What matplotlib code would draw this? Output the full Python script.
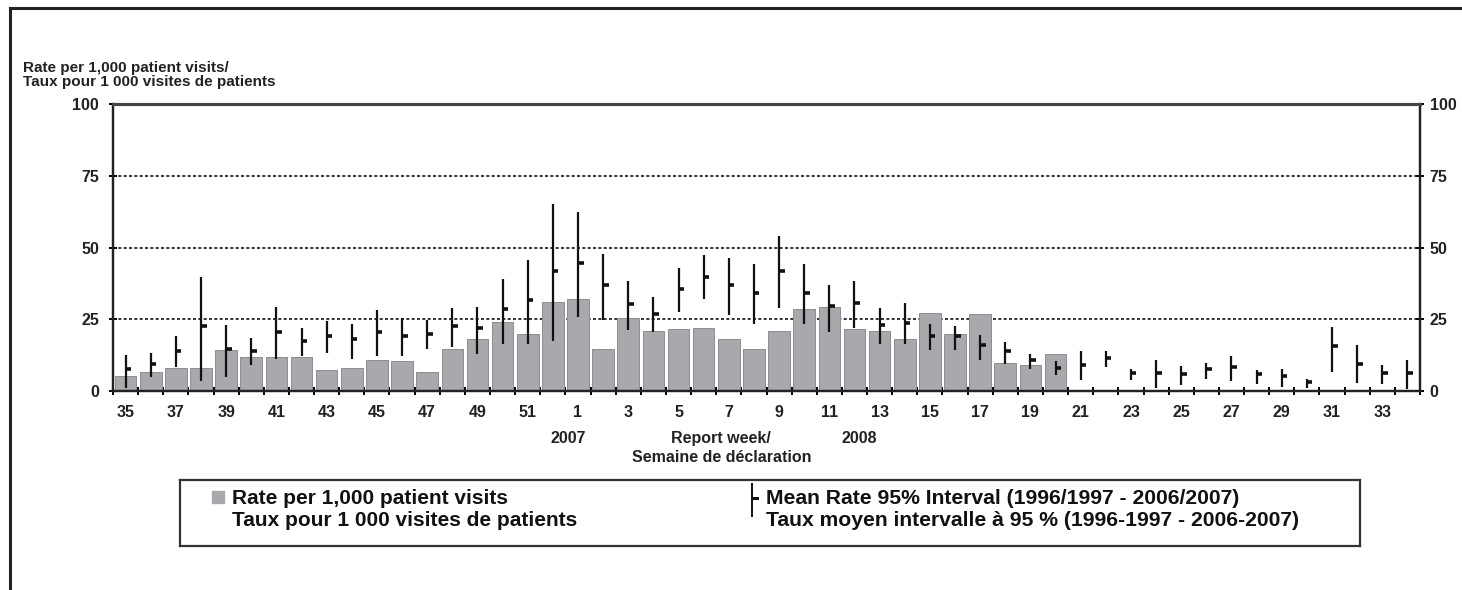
import numpy as np
import matplotlib
matplotlib.use("Agg")
from matplotlib import pyplot as plt
from matplotlib.lines import Line2D
from matplotlib.transforms import blended_transform_factory

plt.rcParams['font.family'] = ['Liberation Sans', 'DejaVu Sans']

# report weeks: 35..52 of 2007, then 1..34 of 2008
weeks = list(range(35, 53)) + list(range(1, 35))

# rate per 1,000 patient visits (only to week 20 of 2008)
rate = [5.2, 6.6, 8.0, 8.0, 14.4, 11.9, 11.9, 11.9, 7.2, 8.0,
        10.9, 10.5, 6.6, 14.8, 18.2, 24.0, 19.7, 31.1, 32.0, 14.8,
        25.4, 20.8, 21.5, 22.1, 18.2, 14.8, 20.8, 28.6, 29.2, 21.5,
        20.8, 18.2, 27.2, 20.0, 26.7, 9.9, 9.1, 12.8]

# mean rate and 95% interval, 1996/1997 - 2006/2007
mean_rate = [7.6, 9.5, 13.9, 22.6, 14.6, 13.9, 20.4, 17.3, 19.2, 18.0,
             20.6, 19.2, 20.0, 22.6, 21.8, 28.4, 31.7, 41.9, 44.5, 36.8,
             30.2, 27.0, 35.4, 39.8, 36.8, 34.0, 41.9, 34.0, 29.6, 30.8,
             22.9, 23.7, 19.2, 19.2, 15.9, 13.9, 10.7, 8.0, 9.0, 11.6,
             6.1, 6.3, 5.8, 7.5, 8.4, 5.8, 5.1, 3.1, 15.6, 9.5,
             6.1, 6.3]
low = [1.2, 4.9, 8.4, 3.4, 4.9, 9.0, 11.2, 12.1, 13.3, 11.3,
       12.1, 12.1, 14.8, 15.4, 12.8, 16.5, 16.5, 17.3, 25.8, 24.7,
       21.2, 20.6, 27.6, 32.2, 26.4, 23.3, 29.0, 23.2, 20.6, 21.8,
       16.5, 16.5, 14.2, 14.2, 10.9, 9.5, 7.8, 5.5, 3.7, 8.4,
       3.7, 1.2, 2.0, 4.3, 3.5, 2.6, 1.4, 1.2, 6.6, 2.8,
       2.6, 0.8]
high = [12.5, 13.3, 19.1, 39.6, 22.9, 18.5, 29.3, 22.1, 24.4, 23.5,
        28.2, 25.5, 24.7, 28.8, 29.3, 39.1, 45.6, 65.1, 62.5, 47.6,
        38.4, 32.6, 43.0, 47.4, 46.2, 44.2, 54.0, 44.2, 37.1, 38.4,
        28.8, 30.5, 23.3, 22.7, 19.4, 17.1, 13.0, 10.4, 13.9, 13.9,
        7.8, 10.7, 8.6, 9.8, 12.1, 7.2, 7.5, 4.3, 22.4, 15.9,
        9.0, 10.7]

yticks = [0, 25, 50, 75, 100]

W, H = 1462, 590
TXT = '#222222'
fig = plt.figure(figsize=(W / 100, H / 100), dpi=100)
ax = fig.add_axes([113 / W, 1 - 391 / H, (1420 - 113) / W, (391 - 104) / H])

x = np.arange(len(weeks))
ax.bar(x[:len(rate)], rate, width=0.86, color='#a8a9ac', edgecolor='#8c8d90',
       linewidth=0.7, zorder=2)

ax.vlines(x, low, high, color='#111111', linewidth=1.6, zorder=3)
ax.hlines(mean_rate, x, x + 0.22, color='#111111', linewidth=2.6, zorder=3)

for v in yticks[1:-1]:
    ax.axhline(v, color='#111111', linewidth=1.2, linestyle=(0, (1.8, 1.4)), zorder=1)

ax.set_xlim(-0.5, len(weeks) - 0.5)
ax.set_ylim(0, 100)
ax.set_xticks(np.arange(-0.5, len(weeks), 1))
ax.set_xticklabels([])
ax.set_xticks(x[::2], minor=True)
ax.set_xticklabels([str(w) for w in weeks[::2]], minor=True)
ax.tick_params(axis='x', which='major', direction='inout', length=6, width=1.4)
ax.tick_params(axis='x', which='minor', length=0, pad=10, labelsize=11.5)
ax.set_yticks(yticks)
ax.tick_params(axis='y', direction='inout', length=6, width=1.4, pad=7, labelsize=11.5)
for lab in ax.get_xticklabels(minor=True) + ax.get_yticklabels():
    lab.set_fontweight('bold')
    lab.set_color(TXT)

ax2 = ax.twinx()
ax2.set_ylim(0, 100)
ax2.set_yticks(yticks)
ax2.tick_params(axis='y', direction='inout', length=6, width=1.4, pad=4, labelsize=11.5)
for lab in ax2.get_yticklabels():
    lab.set_fontweight('bold')
    lab.set_color(TXT)

for a in (ax, ax2):
    for s in ('left', 'right', 'bottom'):
        a.spines[s].set_linewidth(1.6)
        a.spines[s].set_color('#222222')
    a.spines['top'].set_linewidth(2.2)
    a.spines['top'].set_color('#444444')

tr = blended_transform_factory(ax.transData, ax.transAxes)
ax.text(17.6, -0.164, '2007', transform=tr, ha='center', va='center',
        fontsize=11.5, fontweight='bold', color=TXT)
ax.text(29.2, -0.164, '2008', transform=tr, ha='center', va='center',
        fontsize=11.5, fontweight='bold', color=TXT)
ax.text(23.7, -0.164, 'Report week/', transform=tr, ha='center', va='center',
        fontsize=11.5, fontweight='bold', color=TXT)
ax.text(23.7, -0.233, 'Semaine de déclaration', transform=tr, ha='center', va='center',
        fontsize=11.5, fontweight='bold', color=TXT)

fig.text(23 / W, 1 - 75 / H, 'Rate per 1,000 patient visits/\nTaux pour 1 000 visites de patients',
         ha='left', va='center', fontsize=11, fontweight='bold', color=TXT,
         linespacing=1.05)

# legend box, drawn in pixel units
lx0, ly0, lx1, ly1 = 180, 480, 1360, 546
lg = fig.add_axes([lx0 / W, 1 - ly1 / H, (lx1 - lx0) / W, (ly1 - ly0) / H])
lg.set_xlim(lx0, lx1)
lg.set_ylim(ly1, ly0)
lg.set_xticks([])
lg.set_yticks([])
for s in lg.spines.values():
    s.set_linewidth(1.6)
    s.set_color('#333333')
lg.add_patch(plt.Rectangle((212, 491), 12, 12, color='#a8a9ac'))
lg.text(232, 498, 'Rate per 1,000 patient visits', va='center', ha='left',
        fontsize=15, fontweight='bold', color='#111111')
lg.text(232, 521, 'Taux pour 1 000 visites de patients', va='center', ha='left',
        fontsize=15, fontweight='bold', color='#111111')
lg.plot([752, 752], [484, 516], color='#111111', linewidth=1.4)
lg.plot([752, 757], [498, 498], color='#111111', linewidth=2.2)
lg.text(766, 498, 'Mean Rate 95% Interval (1996/1997 - 2006/2007)', va='center', ha='left',
        fontsize=15.2, fontweight='bold', color='#111111')
lg.text(766, 521, 'Taux moyen intervalle à 95 % (1996-1997 - 2006-2007)', va='center', ha='left',
        fontsize=15.2, fontweight='bold', color='#111111')

# outer frame (left and top edges visible)
fig.add_artist(Line2D([10 / W, 10 / W], [0, 1 - 8 / H], transform=fig.transFigure,
                      color='#222222', linewidth=2.2))
fig.add_artist(Line2D([10 / W, 1], [1 - 8 / H, 1 - 8 / H], transform=fig.transFigure,
                      color='#222222', linewidth=2.2))

fig.savefig('out.png', dpi=100)
